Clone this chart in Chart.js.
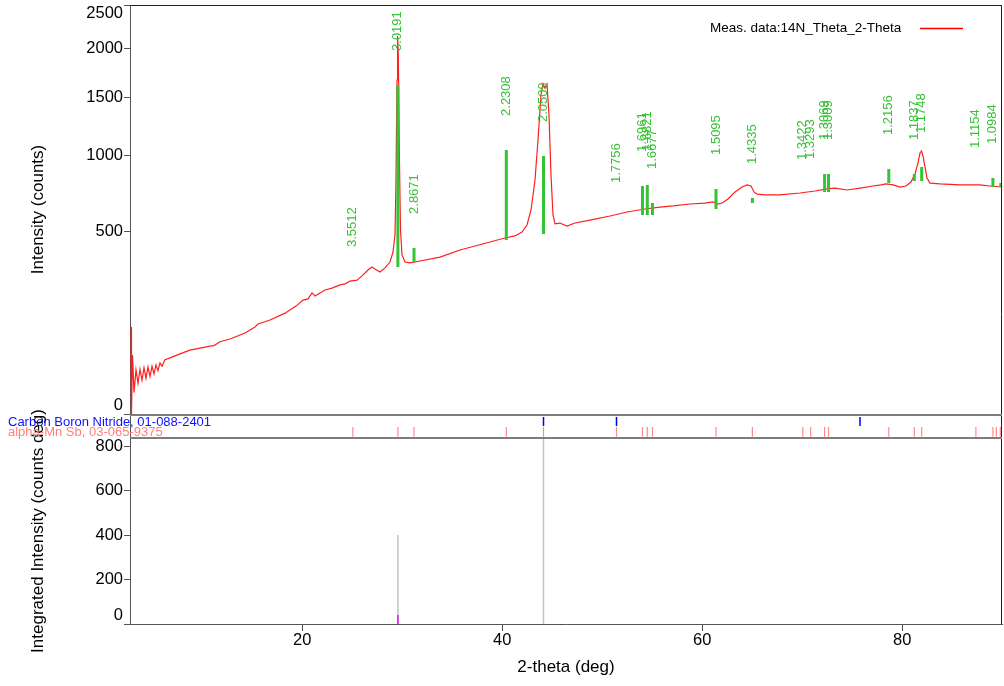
<!DOCTYPE html>
<html lang="en">
<head>
<meta charset="UTF-8">
<title>14N Theta/2-Theta - XRD pattern</title>
<script src="https://cdn.jsdelivr.net/npm/chart.js@4"></script>
<style>
  html, body { margin: 0; padding: 0; background: #fff; }
  #wrap { width: 1004px; height: 686px; position: relative; }
</style>
</head>
<body>
<div id="wrap"><canvas id="xrd"></canvas></div>
<script>
// measured pattern (2-theta in deg, intensity in counts)
const twoTheta = [2.87, 2.92, 3.02, 3.17, 3.37, 3.57, 3.77, 3.97, 4.17, 4.37,
  4.57, 4.77, 4.97, 5.17, 5.37, 5.57, 5.77, 5.97, 6.27, 6.77, 7.77,
  8.77, 9.77, 10.77, 11.17, 11.77, 12.77, 14.27, 15.27, 15.57, 16.77,
  18.27, 19.37, 20.07, 20.57, 20.97, 21.27, 21.77, 22.27, 22.97, 23.77,
  24.27, 24.77, 25.47, 25.97, 26.57, 26.97, 27.27, 27.77, 28.27, 28.77,
  29.07, 29.27, 29.37, 29.47, 29.53, 29.60, 29.70, 29.82, 29.97, 30.27,
  30.77, 31.77, 33.77, 35.77, 37.27, 38.77, 40.27, 41.27, 41.97, 42.47,
  42.87, 43.27, 43.57, 43.87, 44.07, 44.27, 44.47, 44.67, 44.87, 45.07,
  45.27, 45.77, 46.47, 47.27, 48.77, 50.77, 52.47, 54.27, 55.77, 57.07,
  58.77, 60.27, 61.07, 61.57, 61.97, 62.57, 63.27, 63.97, 64.47, 64.87,
  65.17, 65.47, 66.27, 67.77, 69.77, 71.27, 72.47, 73.27, 74.47, 75.77,
  77.07, 77.87, 78.37, 79.07, 79.77, 80.37, 80.87, 81.27, 81.57, 81.77,
  81.92, 82.07, 82.27, 82.47, 82.77, 83.77, 85.77, 87.77, 88.77, 89.97];
const counts = [113, 0, 52, 7, 29, 14, 30, 17, 32, 19,
  33, 21, 34, 24, 36, 28, 39, 34, 44, 47, 54,
  61, 65, 69, 70, 78, 84, 98, 113, 121, 132,
  152, 174, 194, 198, 219, 208, 219, 230, 237, 249,
  253, 264, 268, 285, 310, 323, 314, 301, 319, 345,
  392, 479, 818, 1667, 2135, 1926, 1042, 506, 378, 345,
  341, 350, 368, 402, 422, 442, 463, 474, 495, 534,
  622, 818, 1122, 1521, 1628, 1588, 1628, 1336, 854, 592,
  540, 545, 528, 545, 562, 586, 610, 628, 640, 647,
  659, 665, 672, 659, 665, 691, 737, 770, 784, 777,
  737, 723, 717, 717, 730, 743, 757, 763, 750, 763,
  777, 784, 791, 784, 770, 777, 804, 861, 942, 1018,
  1034, 995, 912, 832, 797, 791, 784, 784, 777, 770];

// peak markers (green sticks) with d-spacing labels
const stickTheta = [25.06, 29.56, 31.17, 40.40, 44.12, 51.42, 54.02, 54.50, 55.02, 61.37, 65.01,
  70.05, 70.83, 72.23, 72.62, 78.65, 81.20, 81.94, 87.36, 89.06, 89.85];
const stickLow = [264, 323, 345, 452, 484, 580, 592, 592, 592, 628, 665,
  723, 730, 737, 737, 797, 811, 811, 804, 770, 770];
const stickHigh = [264, 1618, 412, 1042, 995, 580, 777, 784, 665, 757, 697,
  723, 730, 861, 861, 897, 861, 912, 804, 832, 797];
const stickLabel = ['3.5512', '3.0191', '2.8671', '2.2308', '2.0509', '1.7756', '1.6961', '1.6821', '1.6677', '1.5095', '1.4335',
  '1.3422', '1.3293', '1.3069', '1.3009', '1.2156', '1.1837', '1.1748', '1.1154', '1.0984', ''];

// reference phases
const cbnName = 'Carbon Boron Nitride, 01-088-2401';
const cbnTheta = [44.12, 51.42, 75.77];
const mnsbName = 'alpha-Mn Sb, 03-065-9375';
const mnsbTheta = [25.06, 29.56, 31.17, 40.40, 44.12, 51.42, 54.02, 54.50, 55.02, 61.37, 65.01,
  70.05, 70.83, 72.23, 72.62, 78.65, 81.20, 81.94, 87.36, 89.06, 89.40, 89.80];

// integrated intensity (counts deg)
const areaTheta = [44.12, 29.56];
const areaValue = [836, 400];
const fitTheta = [29.56];
const fitValue = [40];

// axis ticks
const xTicks = [20, 40, 60, 80];
const topTicks = [0, 500, 1000, 1500, 2000, 2500];
const botTicks = [0, 200, 400, 600, 800];

const FONT = '"Liberation Sans", Arial, sans-serif';
const GREEN = '#36c236';
Chart.defaults.font.family = FONT;

// square-root intensity axis
class SqrtScale extends Chart.LinearScale {
  getPixelForValue(value) {
    if (value === null || isNaN(value)) return NaN;
    const lo = Math.sqrt(this.min), hi = Math.sqrt(this.max);
    return this.getPixelForDecimal((Math.sqrt(Math.max(value, 0)) - lo) / (hi - lo));
  }
  getValueForPixel(pixel) {
    const lo = Math.sqrt(this.min), hi = Math.sqrt(this.max);
    const s = lo + this.getDecimalForPixel(pixel) * (hi - lo);
    return s * s;
  }
}
SqrtScale.id = 'sqrt';
SqrtScale.defaults = Chart.LinearScale.defaults;
Chart.register(SqrtScale);

function sticks(xs, lo, hi) {
  const out = [];
  xs.forEach((t, i) => {
    const a = Array.isArray(lo) ? lo[i] : lo;
    const b = Array.isArray(hi) ? hi[i] : hi;
    out.push({x: t, y: a}, {x: t, y: b}, {x: t, y: null});
  });
  return out;
}

const lineDefaults = {type: 'line', pointRadius: 0, tension: 0, fill: false, spanGaps: false};

const decor = {
  id: 'decor',
  afterDatasetsDraw(chart) {
    const {ctx, scales} = chart;
    ctx.save();
    ctx.font = '13px ' + FONT;
    ctx.fillStyle = GREEN;
    ctx.textAlign = 'left';
    ctx.textBaseline = 'middle';
    stickTheta.forEach((t, i) => {
      if (!stickLabel[i]) return;
      const px = scales.x.getPixelForValue(t);
      const py = scales.yTop.getPixelForValue(stickHigh[i]) - 34;
      ctx.save();
      ctx.translate(px, py);
      ctx.rotate(-Math.PI / 2);
      ctx.fillText(stickLabel[i], 0, 0);
      ctx.restore();
    });
    ctx.restore();
  },
  afterDraw(chart) {
    const {ctx, scales, chartArea} = chart;
    const top = scales.yTop, mid = scales.yMid, bot = scales.yBot;
    const L = chartArea.left, R = chartArea.right;
    ctx.save();

    // panel frames
    ctx.strokeStyle = '#222';
    ctx.lineWidth = 1;
    ctx.beginPath();
    ctx.moveTo(L, top.top + 0.5); ctx.lineTo(R, top.top + 0.5);
    ctx.moveTo(R - 0.5, top.top); ctx.lineTo(R - 0.5, bot.bottom);
    ctx.stroke();
    ctx.strokeStyle = '#7d7d7d';
    ctx.lineWidth = 2;
    [mid.top + 1, mid.bottom].forEach(y => {
      ctx.beginPath(); ctx.moveTo(L, y); ctx.lineTo(R, y); ctx.stroke();
    });

    // y tick labels, kept inside each panel
    ctx.fillStyle = '#000';
    ctx.font = '16.5px ' + FONT;
    ctx.textAlign = 'right';
    ctx.textBaseline = 'middle';
    [top, bot].forEach(s => s.ticks.forEach(t => {
      const p = s.getPixelForValue(t.value);
      const y = Math.min(Math.max(p, s.top + 8.5), s.bottom - 8.5);
      ctx.fillText(String(t.value), s.right - 7, y);
    }));

    // y titles
    ctx.font = '17px ' + FONT;
    ctx.textAlign = 'center';
    [[top, 'Intensity (counts)'], [bot, 'Integrated Intensity (counts deg)']].forEach(([s, text]) => {
      ctx.save();
      ctx.translate(38, (s.top + s.bottom) / 2);
      ctx.rotate(-Math.PI / 2);
      ctx.fillText(text, 0, 0);
      ctx.restore();
    });

    // phase names in the strip
    ctx.font = '13px ' + FONT;
    ctx.textAlign = 'left';
    ctx.fillStyle = '#1010ff';
    ctx.fillText(cbnName, 8, mid.top + 8);
    ctx.fillStyle = '#ff8080';
    ctx.fillText(mnsbName, 8, mid.top + 18);

    // legend
    ctx.fillStyle = '#000';
    ctx.font = '13.5px ' + FONT;
    ctx.fillText('Meas. data:14N_Theta_2-Theta', 710, 28);
    ctx.strokeStyle = '#ff0000';
    ctx.lineWidth = 1.5;
    ctx.beginPath(); ctx.moveTo(920, 28.5); ctx.lineTo(963, 28.5); ctx.stroke();

    ctx.restore();
  }
};

const fitWidth = s => { s.width = 130; };
const leftGrid = {drawOnChartArea: false, tickLength: 6, color: '#555'};

new Chart(document.getElementById('xrd'), {
  type: 'line',
  data: {
    datasets: [
      Object.assign({}, lineDefaults, {label: 'peaks', yAxisID: 'yTop', order: 0,
        data: sticks(stickTheta, stickLow, stickHigh), borderColor: GREEN, borderWidth: 3, borderCapStyle: 'butt'}),
      Object.assign({}, lineDefaults, {label: 'Meas. data:14N_Theta_2-Theta', yAxisID: 'yTop', order: 1,
        data: twoTheta.map((t, i) => ({x: t, y: counts[i]})), borderColor: '#ff1e1e', borderWidth: 1.2}),
      Object.assign({}, lineDefaults, {label: cbnName, yAxisID: 'yMid', order: 0,
        data: sticks(cbnTheta, 1.0, 1.75), borderColor: '#0000ff', borderWidth: 1.5}),
      Object.assign({}, lineDefaults, {label: mnsbName, yAxisID: 'yMid', order: 1,
        data: sticks(mnsbTheta, 0.1, 0.92), borderColor: '#ff8c8c', borderWidth: 1.2}),
      Object.assign({}, lineDefaults, {label: 'fit', yAxisID: 'yBot', order: 0,
        data: sticks(fitTheta, 0, fitValue), borderColor: '#ff00ff', borderWidth: 1.5}),
      Object.assign({}, lineDefaults, {label: 'integrated', yAxisID: 'yBot', order: 1,
        data: sticks(areaTheta, 0, areaValue), borderColor: '#c4c4c4', borderWidth: 1.5})
    ]
  },
  options: {
    responsive: true,
    maintainAspectRatio: false,
    animation: false,
    events: [],
    layout: {padding: {top: 5, right: 2, bottom: 0, left: 0}},
    plugins: {legend: {display: false}, tooltip: {enabled: false}},
    scales: {
      x: {
        type: 'linear', min: 2.77, max: 89.97,
        afterBuildTicks: s => { s.ticks = xTicks.map(v => ({value: v})); },
        afterFit: s => { s.height = 62; },
        ticks: {color: '#000', font: {size: 16.5}, padding: 0, callback: v => String(v)},
        grid: {drawOnChartArea: false, tickLength: 7, color: '#555'},
        border: {color: '#555'},
        title: {display: true, text: '2-theta (deg)', color: '#000', font: {size: 17}, padding: {top: 0, bottom: 8}}
      },
      yBot: {
        type: 'linear', position: 'left', stack: 'left', stackWeight: 186, min: 0, max: 836,
        afterBuildTicks: s => { s.ticks = botTicks.map(v => ({value: v})); },
        afterFit: fitWidth,
        ticks: {display: false},
        grid: leftGrid,
        border: {color: '#555'}
      },
      yMid: {
        type: 'linear', position: 'left', stack: 'left', stackWeight: 24, min: 0, max: 2,
        afterFit: fitWidth,
        ticks: {display: false},
        grid: {display: false},
        border: {color: '#555'}
      },
      yTop: {
        type: 'sqrt', position: 'left', stack: 'left', stackWeight: 409, min: 0, max: 2500,
        afterBuildTicks: s => { s.ticks = topTicks.map(v => ({value: v})); },
        afterFit: fitWidth,
        ticks: {display: false},
        grid: leftGrid,
        border: {color: '#555'}
      }
    }
  },
  plugins: [decor]
});
</script>
</body>
</html>
